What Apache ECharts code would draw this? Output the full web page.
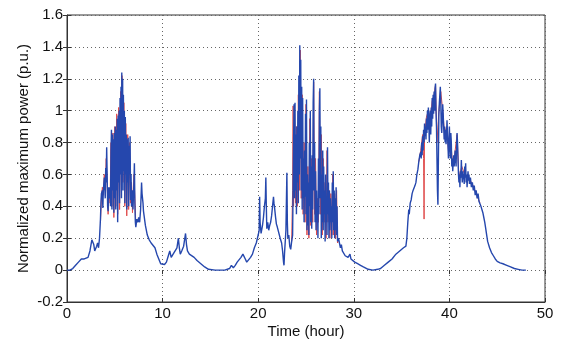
<!DOCTYPE html>
<html><head><meta charset="utf-8">
<script src="https://cdn.jsdelivr.net/npm/echarts@6/dist/echarts.min.js"></script>
<style>html,body{margin:0;padding:0;background:#fff}#c{width:564px;height:339px}</style>
</head><body><div id="c"></div>
<script>
// x-axis ticks and y-axis ticks
const xTicks = [0, 10, 20, 30, 40, 50];
const yTicks = [-0.2, 0, 0.2, 0.4, 0.6, 0.8, 1, 1.2, 1.4, 1.6];

// Blue series: [hour, normalized power]
const bluePower = [
[0,0],[0.3,0.0],[0.6,0.01],[0.9,0.03],[1.2,0.05],[1.5,0.07],[1.8,0.07],[2.0,0.06],[2.2,0.08],[2.4,0.12],[2.6,0.19],[2.7,0.2],[2.8,0.16],[2.9,0.12],[3.0,0.11],[3.1,0.15],[3.2,0.17],[3.3,0.14],[3.4,0.2],[3.5,0.32],[3.55,0.42],[3.6,0.48],[3.7,0.5],[3.75,0.39],[3.8,0.5],[3.9,0.58],[4.0,0.45],[4.05,0.64],[4.1,0.55],[4.15,0.77],[4.2,0.6],[4.25,0.4],[4.3,0.37],[4.35,0.52],[4.4,0.45],[4.5,0.52],[4.55,0.4],[4.6,0.74],[4.65,0.88],[4.7,0.38],[4.75,0.85],[4.8,0.5],[4.85,0.82],[4.9,0.36],[4.95,0.86],[5.0,0.45],[5.05,0.9],[5.1,0.38],[5.15,0.88],[5.2,0.5],[5.25,0.95],[5.3,0.3],[5.35,0.97],[5.4,0.55],[5.45,1.0],[5.5,0.42],[5.55,1.08],[5.6,0.6],[5.65,1.15],[5.7,0.45],[5.73,1.24],[5.78,0.7],[5.82,1.2],[5.86,0.5],[5.9,1.1],[5.95,0.62],[6.0,1.0],[6.05,0.42],[6.1,0.96],[6.15,0.6],[6.2,0.85],[6.25,0.38],[6.3,0.82],[6.35,0.55],[6.4,0.83],[6.45,0.4],[6.5,0.78],[6.55,0.6],[6.6,0.84],[6.65,0.44],[6.7,0.6],[6.75,0.4],[6.85,0.5],[6.9,0.38],[7.0,0.55],[7.05,0.67],[7.1,0.42],[7.15,0.3],[7.2,0.27],[7.3,0.32],[7.4,0.3],[7.5,0.33],[7.6,0.3],[7.7,0.38],[7.8,0.55],[7.85,0.48],[7.95,0.42],[8.0,0.37],[8.2,0.28],[8.4,0.22],[8.6,0.19],[8.8,0.17],[9.0,0.16],[9.2,0.14],[9.4,0.1],[9.6,0.07],[9.8,0.04],[10.0,0.03],[10.2,0.035],[10.4,0.05],[10.6,0.09],[10.75,0.12],[10.9,0.08],[11.1,0.1],[11.3,0.11],[11.5,0.14],[11.65,0.2],[11.75,0.14],[11.85,0.1],[12.0,0.12],[12.2,0.15],[12.4,0.23],[12.5,0.16],[12.6,0.12],[12.8,0.1],[13.0,0.09],[13.3,0.08],[13.6,0.06],[14.0,0.04],[14.4,0.02],[14.8,0.005],[15.5,0],[16.5,0],[17.0,0.01],[17.2,0.03],[17.4,0.015],[17.6,0.03],[17.8,0.05],[18.0,0.06],[18.2,0.08],[18.4,0.1],[18.5,0.11],[18.65,0.07],[18.8,0.05],[19.0,0.06],[19.2,0.08],[19.4,0.1],[19.6,0.14],[19.8,0.17],[20.0,0.22],[20.1,0.25],[20.15,0.46],[20.2,0.3],[20.3,0.23],[20.45,0.28],[20.55,0.33],[20.65,0.4],[20.75,0.45],[20.8,0.58],[20.85,0.4],[20.9,0.26],[21.0,0.3],[21.1,0.25],[21.2,0.28],[21.3,0.3],[21.4,0.34],[21.5,0.4],[21.6,0.46],[21.65,0.42],[21.7,0.4],[21.8,0.34],[21.9,0.29],[22.0,0.27],[22.15,0.26],[22.3,0.2],[22.45,0.17],[22.55,0.12],[22.65,0.05],[22.7,0.03],[22.75,0.1],[22.85,0.2],[22.9,0.25],[23.0,0.61],[23.05,0.3],[23.1,0.2],[23.2,0.22],[23.3,0.15],[23.4,0.13],[23.5,0.18],[23.6,0.22],
[23.7,0.8],[23.75,1.04],[23.8,0.45],[23.85,1.05],[23.9,0.5],[23.95,0.85],[24.0,0.35],[24.05,0.9],[24.1,0.55],[24.15,1.0],[24.2,0.42],[24.25,1.22],[24.3,0.6],[24.35,1.41],[24.4,0.7],[24.45,1.32],[24.5,0.5],[24.55,1.15],[24.6,0.38],[24.65,1.08],[24.7,0.45],[24.75,0.7],[24.8,0.3],[24.85,0.75],[24.9,0.46],[24.95,0.98],[25.0,0.35],[25.05,1.07],[25.1,0.25],[25.15,0.6],[25.2,0.28],[25.25,0.55],[25.3,0.22],[25.35,0.8],[25.4,0.4],[25.45,1.0],[25.5,0.3],[25.55,0.65],[25.6,0.26],[25.65,0.72],[25.7,0.38],[25.75,1.05],[25.8,1.2],[25.85,0.5],[25.9,0.8],[25.95,0.3],[26.0,0.62],[26.05,0.25],[26.1,0.5],[26.15,0.3],[26.2,0.41],[26.25,0.2],[26.3,0.7],[26.35,0.35],[26.4,1.0],[26.45,1.14],[26.5,0.45],[26.55,0.9],[26.6,0.2],[26.65,0.6],[26.7,0.3],[26.75,0.75],[26.8,0.25],[26.85,0.65],[26.9,0.35],[26.95,0.5],[27.0,0.18],[27.05,0.6],[27.1,0.3],[27.15,0.45],[27.2,0.22],[27.25,0.77],[27.3,0.35],[27.35,0.55],[27.4,0.2],[27.45,0.5],[27.5,0.25],[27.55,0.45],[27.6,0.3],[27.65,0.4],[27.7,0.2],[27.75,0.55],[27.8,0.3],[27.85,0.62],[27.9,0.25],[27.95,0.5],[28.0,0.2],[28.05,0.45],[28.1,0.25],[28.15,0.52],[28.2,0.22],[28.25,0.4],[28.3,0.18],[28.4,0.2],[28.5,0.17],[28.6,0.14],[28.7,0.16],[28.8,0.12],[28.9,0.11],[29.0,0.13],[29.1,0.09],[29.2,0.1],[29.4,0.08],[29.6,0.1],[29.7,0.07],[29.9,0.06],[30.1,0.05],[30.4,0.04],[30.7,0.03],[31.0,0.02],[31.5,0.005],[32.0,0],[32.5,0.005],[32.8,0.01],[33.2,0.03],[33.6,0.05],[34.0,0.07],[34.4,0.1],[34.8,0.12],[35.2,0.14],[35.45,0.15],[35.55,0.2],[35.65,0.3],[35.75,0.38],[35.8,0.35],[35.9,0.42],[36.0,0.44],[36.1,0.48],[36.2,0.5],[36.3,0.51],[36.4,0.53],[36.5,0.55],[36.6,0.6],[36.7,0.63],[36.8,0.68],[36.9,0.72],[37.0,0.74],[37.05,0.7],[37.1,0.8],[37.15,0.72],[37.2,0.84],[37.25,0.75],[37.3,0.88],[37.35,0.8],[37.4,0.92],[37.45,0.84],[37.5,0.9],[37.55,0.82],[37.6,0.95],[37.65,0.86],[37.7,1.0],[37.75,0.88],[37.8,1.02],[37.85,0.92],[37.9,0.8],[37.95,0.95],[38.0,1.0],[38.05,0.85],[38.1,1.02],[38.15,0.9],[38.2,1.08],[38.25,0.95],[38.3,1.1],[38.35,0.98],[38.4,1.12],[38.45,1.0],[38.5,1.14],[38.55,1.17],[38.6,1.0],[38.65,0.9],[38.7,0.7],[38.75,0.5],[38.8,0.41],[38.85,0.7],[38.9,0.98],[38.95,1.05],[39.0,1.1],[39.05,1.15],[39.1,1.05],[39.15,0.9],[39.2,0.86],[39.25,0.95],[39.3,1.04],[39.35,0.98],[39.4,0.9],[39.45,0.82],[39.5,0.9],[39.55,0.8],[39.6,0.88],[39.65,0.79],[39.7,0.85],[39.75,0.94],[39.8,0.85],[39.85,0.78],[39.9,0.7],[39.95,0.8],[40.0,0.9],[40.05,0.78],[40.1,0.7],[40.15,0.86],[40.2,0.8],[40.25,0.65],[40.3,0.7],[40.35,0.62],[40.4,0.68],[40.45,0.72],[40.5,0.65],[40.55,0.7],[40.6,0.75],[40.65,0.7],[40.7,0.65],[40.75,0.78],[40.8,0.86],[40.85,0.8],[40.9,0.7],[40.95,0.6],[41.0,0.55],[41.05,0.6],[41.1,0.52],[41.15,0.62],[41.2,0.58],[41.25,0.69],[41.3,0.6],[41.35,0.55],[41.4,0.62],[41.45,0.57],[41.5,0.6],[41.55,0.54],[41.6,0.65],[41.65,0.58],[41.7,0.67],[41.75,0.55],[41.8,0.6],[41.85,0.52],[41.9,0.58],[41.95,0.62],[42.0,0.56],[42.05,0.6],[42.1,0.54],[42.2,0.58],[42.3,0.52],[42.4,0.55],[42.5,0.5],[42.6,0.53],[42.7,0.47],[42.8,0.5],[42.9,0.45],[43.0,0.48],[43.1,0.43],[43.2,0.42],[43.3,0.4],[43.4,0.38],[43.5,0.36],[43.6,0.33],[43.7,0.3],[43.8,0.26],[43.9,0.22],[44.0,0.18],[44.2,0.14],[44.4,0.11],[44.6,0.09],[44.8,0.07],[45.0,0.055],[45.3,0.045],[45.6,0.04],[46.0,0.03],[46.4,0.02],[46.8,0.01],[47.2,0.005],[47.6,0.0],[48.0,0.0]
];

// Red series (visible under the blue one in the fluctuating periods)
const redDay1 = [[3.5,0.3],[3.6,0.45],[3.7,0.52],[3.8,0.47],[3.9,0.6],[4.0,0.5],[4.1,0.7],[4.2,0.55],[4.3,0.35],[4.4,0.5],[4.5,0.42],[4.6,0.8],[4.7,0.4],[4.8,0.86],[4.9,0.33],[5.0,0.9],[5.1,0.4],[5.2,0.98],[5.3,0.35],[5.4,1.02],[5.5,0.38],[5.6,1.12],[5.7,0.5],[5.75,1.22],[5.85,0.55],[5.95,1.05],[6.05,0.4],[6.15,0.92],[6.25,0.34],[6.35,0.85],[6.45,0.38],[6.55,0.8],[6.65,0.42],[6.75,0.55],[6.85,0.36],[7.0,0.6],[7.1,0.45],[7.2,0.28]];
const redDay2 = [[23.5,0.18],[23.6,0.5],[23.65,1.03],[23.7,0.4],[23.8,1.02],[23.9,0.42],[24.0,0.9],[24.1,0.4],[24.2,1.1],[24.3,0.5],[24.4,1.38],[24.5,0.45],[24.6,1.1],[24.7,0.35],[24.8,0.8],[24.9,0.3],[25.0,1.04],[25.1,0.22],[25.2,0.65],[25.3,0.2],[25.4,0.95],[25.5,0.28],[25.6,0.7],[25.7,0.3],[25.8,1.18],[25.9,0.35],[26.0,0.7],[26.1,0.22],[26.2,0.45],[26.3,0.3],[26.4,1.12],[26.5,0.35],[26.6,0.85],[26.7,0.22],[26.8,0.7],[26.9,0.3],[27.0,0.55],[27.1,0.2],[27.2,0.75],[27.3,0.3],[27.4,0.5],[27.5,0.2],[27.6,0.48],[27.7,0.22],[27.8,0.6],[27.9,0.22],[28.0,0.48],[28.1,0.2],[28.2,0.5],[28.3,0.17],[28.4,0.2]];
const redDay3 = [[36.8,0.68],[37.0,0.75],[37.2,0.85],[37.3,0.7],[37.35,0.32],[37.4,0.85],[37.6,0.96],[37.8,1.0],[38.0,0.95],[38.2,1.06],[38.4,1.1],[38.55,1.16],[38.7,0.8],[38.9,1.0],[39.1,1.12],[39.3,1.0],[39.5,0.85],[39.7,0.9],[39.9,0.75],[40.1,0.85],[40.3,0.68],[40.5,0.7],[40.8,0.85],[41.0,0.58],[41.3,0.65],[41.6,0.6],[42.0,0.58],[42.4,0.54],[42.8,0.48],[43.2,0.42]];

const FONT = 'Liberation Sans, Arial, sans-serif';
const chart = echarts.init(document.getElementById('c'), null, {renderer: 'canvas'});
const fmt = v => { const r = Math.round(v * 10) / 10; return String(r); };
const lineStyleRed = {color: '#e04a4a', width: 1};
const redSeries = [redDay1, redDay2, redDay3].map(d => ({
  type: 'line', data: d, showSymbol: false, symbol: 'none', silent: true,
  lineStyle: lineStyleRed, z: 2
}));
const tick = {show: true, inside: true, length: 4, lineStyle: {color: '#333'}};
chart.setOption({
  animation: false,
  grid: {left: 67, right: 19, top: 15, bottom: 37, outerBoundsMode: 'none', containLabel: false,
         show: true, borderColor: '#333', borderWidth: 1, backgroundColor: '#fff'},
  xAxis: [{
    type: 'value', min: xTicks[0], max: xTicks[xTicks.length - 1], interval: 10,
    name: 'Time (hour)', nameLocation: 'middle', nameGap: 22, nameMoveOverlap: false,
    nameTextStyle: {fontFamily: FONT, fontSize: 15, color: '#111'},
    axisLine: {show: true, onZero: false, lineStyle: {color: '#333', width: 1}},
    axisTick: tick,
    axisLabel: {fontFamily: FONT, fontSize: 15, color: '#111', margin: 4, formatter: fmt},
    splitLine: {show: true, lineStyle: {color: '#666', type: [1, 3], width: 1}}
  }, {
    type: 'value', position: 'top', min: 0, max: 50, interval: 10,
    axisLine: {show: false}, axisTick: tick,
    axisLabel: {show: false}, splitLine: {show: false}
  }],
  yAxis: [{
    type: 'value', min: yTicks[0], max: yTicks[yTicks.length - 1], interval: 0.2,
    name: 'Normalized maximum power (p.u.)', nameLocation: 'middle', nameGap: 36, nameMoveOverlap: false,
    nameTextStyle: {fontFamily: FONT, fontSize: 15, color: '#111'},
    axisLine: {show: true, onZero: false, lineStyle: {color: '#333', width: 1}},
    axisTick: tick,
    axisLabel: {fontFamily: FONT, fontSize: 15, color: '#111', margin: 4, formatter: fmt},
    splitLine: {show: true, lineStyle: {color: '#666', type: [1, 3], width: 1}}
  }, {
    type: 'value', position: 'right', min: -0.2, max: 1.6, interval: 0.2,
    axisLine: {show: false}, axisTick: tick,
    axisLabel: {show: false}, splitLine: {show: false}
  }],
  series: redSeries.concat([{
    type: 'line', data: bluePower, showSymbol: false, symbol: 'none', silent: true,
    lineStyle: {color: '#2547ad', width: 1.4}, z: 3
  }])
});
</script></body></html>
